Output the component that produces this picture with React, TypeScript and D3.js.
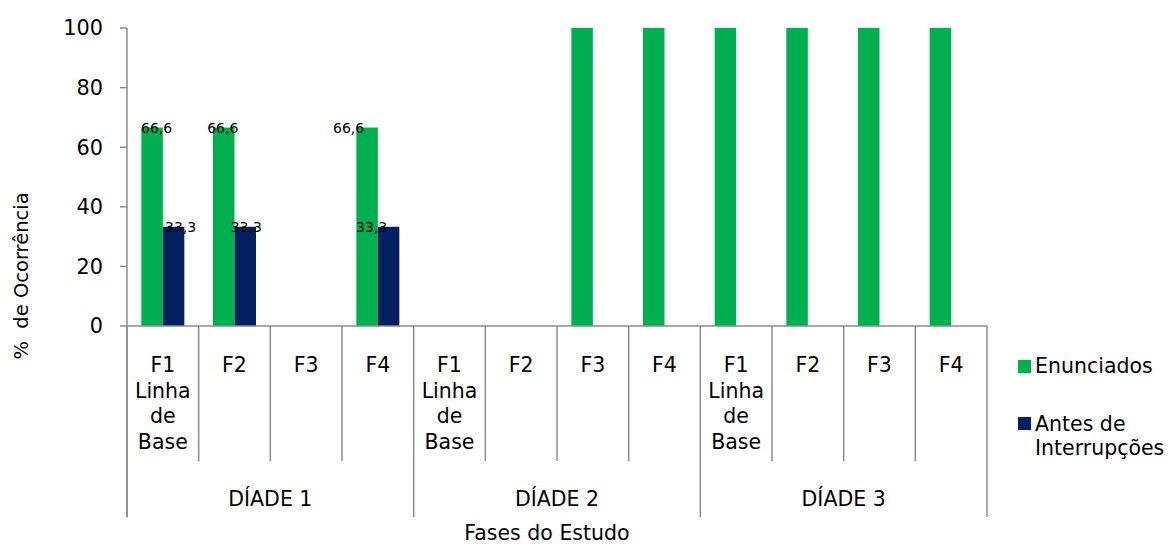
import React from "react";
import * as d3 from "d3";

const groups = ["DÍADE 1", "DÍADE 2", "DÍADE 3"];
const phases = [["F1", "Linha", "de", "Base"], ["F2"], ["F3"], ["F4"]];
const seriesNames = ["Enunciados", "Antes de Interrupções"];
const enunciados = [66.6, 66.6, 0, 66.6, 0, 0, 100, 100, 100, 100, 100, 100];
const antes = [33.3, 33.3, 0, 33.3, 0, 0, 0, 0, 0, 0, 0, 0];
const enunciadosLabels = ["66,6", "66,6", "", "66,6", "", "", "", "", "", "", "", ""];
const antesLabels = ["33,3", "33,3", "", "33,3", "", "", "", "", "", "", "", ""];
const yTicks = [0, 20, 40, 60, 80, 100];
// manual label nudges (px) as in the original
const enunLabelDx = [4.5, -1, 0, -18.5, 0, 0, 0, 0, 0, 0, 0, 0];
const antesLabelDx = [7, 1, 0, -17, 0, 0, 0, 0, 0, 0, 0, 0];

const colors = ["#00B050", "#002060"];
const axisColor = "#8c8c8c";
const font = "'DejaVu Sans', Verdana, sans-serif";

export default function App() {
  const W = 1174, H = 544;
  const x0 = 127, x1 = 987, yTop = 28, yBase = 326;
  const catCount = groups.length * phases.length;
  const cats = d3.range(catCount).map(String);
  const x = d3.scaleBand<string>().domain(cats).range([x0, x1]).padding(0);
  const inner = d3.scaleBand<string>().domain(["0", "1"]).range([0, x.bandwidth()]).paddingInner(0).paddingOuter(0.667);
  const y = d3.scaleLinear().domain([0, 100]).range([yBase, yTop]);
  const step = x.bandwidth();
  const catBottom = 461, groupBottom = 517;
  const series = [enunciados, antes];
  const labels = [enunciadosLabels, antesLabels];
  const dxs = [enunLabelDx, antesLabelDx];
  const fs = 20.5;

  return (
    <svg width={W} height={H} style={{ position: "absolute", left: 0, top: 0 }} fontFamily={font}>
      <rect width={W} height={H} fill="#fff" />
      {/* bars */}
      {series.map((vals, si) =>
        vals.map((v, i) =>
          v > 0 ? (
            <rect
              key={`b${si}-${i}`}
              x={(x(String(i)) as number) + (inner(String(si)) as number)}
              y={y(v)}
              width={inner.bandwidth()}
              height={yBase - y(v)}
              fill={colors[si]}
            />
          ) : null
        )
      )}
      {/* y axis */}
      <line x1={x0} x2={x0} y1={yTop} y2={groupBottom} stroke={axisColor} strokeWidth={1.5} />
      {yTicks.map((t) => (
        <g key={t}>
          <line x1={x0 - 7} x2={x0} y1={y(t)} y2={y(t)} stroke={axisColor} strokeWidth={1.5} />
          <text x={103} y={y(t)} dy="0.36em" textAnchor="end" fontSize={20.8} fill="#000">
            {t}
          </text>
        </g>
      ))}
      {/* x axis */}
      <line x1={x0} x2={x1} y1={yBase} y2={yBase} stroke={axisColor} strokeWidth={1.5} />
      {d3.range(catCount + 1).map((i) => {
        const xx = x0 + i * step;
        const isGroup = i % phases.length === 0;
        return (
          <line key={`t${i}`} x1={xx} x2={xx} y1={yBase} y2={isGroup ? groupBottom : catBottom} stroke={axisColor} strokeWidth={1.5} />
        );
      })}
      {/* category labels */}
      {cats.map((c, i) => {
        const lines = phases[i % phases.length];
        const cx = (x(c) as number) + step / 2;
        return (
          <text key={`c${i}`} x={cx} y={372} textAnchor="middle" fontSize={fs} fill="#000">
            {lines.map((l, li) => (
              <tspan key={li} x={cx} dy={li === 0 ? 0 : 25.5}>
                {l}
              </tspan>
            ))}
          </text>
        );
      })}
      {groups.map((g, gi) => {
        const cx = x0 + (gi * phases.length + phases.length / 2) * step;
        return (
          <text key={g} x={cx} y={506} textAnchor="middle" fontSize={fs} fill="#000">
            {g}
          </text>
        );
      })}
      {/* data labels */}
      {labels.map((ls, si) =>
        ls.map((l, i) =>
          l ? (
            <text
              key={`l${si}-${i}`}
              x={(x(String(i)) as number) + (inner(String(si)) as number) + inner.bandwidth() / 2 + dxs[si][i]}
              y={y(series[si][i])}
              dy="0.36em"
              textAnchor="middle"
              fontSize={14}
              fill="#000"
            >
              {l}
            </text>
          ) : null
        )
      )}
      {/* axis titles */}
      <text x={547} y={540} textAnchor="middle" fontSize={fs} fill="#000">
        Fases do Estudo
      </text>
      <text transform="translate(28,276) rotate(-90)" textAnchor="middle" fontSize={19.5} fill="#000" xmlSpace="preserve">
        %  de Ocorrência
      </text>
      {/* legend */}
      <rect x={1018} y={360} width={13} height={13} fill={colors[0]} />
      <text x={1035} y={373} fontSize={fs} fill="#000">{seriesNames[0]}</text>
      <rect x={1018} y={417} width={13} height={13} fill={colors[1]} />
      <text x={1035} y={431} fontSize={fs} fill="#000">
        <tspan x={1035}>Antes de</tspan>
        <tspan x={1035} dy={24}>Interrupções</tspan>
      </text>
    </svg>
  );
}
